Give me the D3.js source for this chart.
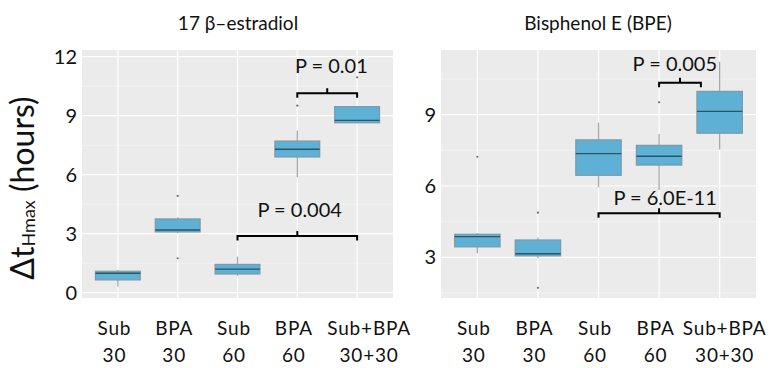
<!DOCTYPE html>
<html>
<head>
<meta charset="utf-8">
<script src="https://cdn.jsdelivr.net/npm/d3@7"></script>
<style>
  html, body { margin: 0; padding: 0; background: #fff; }
  svg { display: block; font-family: Lato, "Open Sans", sans-serif; }
</style>
</head>
<body>
<svg id="chart" width="772" height="368"></svg>
<script>
// Group labels (two lines each)
const groupLine1 = ["Sub", "BPA", "Sub", "BPA", "Sub+BPA"];
const groupLine2 = ["30", "30", "60", "60", "30+30"];

// 17 beta-estradiol: box-plot statistics per group (hours)
const e2WhiskerLow  = [0.31, 3.02, 0.86, 5.87, 8.61];
const e2Q1          = [0.65, 3.09, 0.95, 6.90, 8.64];
const e2Median      = [0.99, 3.19, 1.20, 7.29, 8.76];
const e2Q3          = [1.09, 3.75, 1.44, 7.71, 9.46];
const e2WhiskerHigh = [1.15, 3.83, 1.83, 8.24, 9.46];
const e2Outliers    = [[], [4.92, 1.75], [], [9.51], [10.95]];
const e2Ticks       = [0, 3, 6, 9, 12];

// Bisphenol E: box-plot statistics per group (hours)
const bpeWhiskerLow  = [3.17, 2.96, 5.95, 5.83, 7.54];
const bpeQ1          = [3.44, 3.06, 6.45, 6.88, 8.22];
const bpeMedian      = [3.87, 3.15, 7.36, 7.25, 9.14];
const bpeQ3          = [3.97, 3.73, 7.94, 7.71, 9.98];
const bpeWhiskerHigh = [4.01, 3.83, 8.66, 8.19, 11.23];
const bpeOutliers    = [[7.23], [4.88, 1.72], [], [9.52], []];
const bpeTicks       = [3, 6, 9];

// Significance brackets: group span, bar height and label placement (data units)
const e2Brackets = [
  { label: "P = 0.01",  from: 3, to: 4,    y: 10.14, tx: 3.57, ty: 11.18 },
  { label: "P = 0.004", from: 2, to: 4,    y: 2.88,  tx: 3.04, ty: 3.83 }
];
const bpeBrackets = [
  { label: "P = 0.005",   from: 3, to: 3.69, y: 10.34, tx: 3.26, ty: 10.85 },
  { label: "P = 6.0E-11", from: 2, to: 4,    y: 4.85,  tx: 3.10, ty: 5.19 }
];

const svg = d3.select("#chart");

function buildRows(lo, q1, med, q3, hi, out) {
  return groupLine1.map((g, i) => ({
    i, lo: lo[i], q1: q1[i], med: med[i], q3: q3[i], hi: hi[i], out: out[i]
  }));
}

function drawPanel(opt) {
  const { left, right, top, bottom, yDomain, ticks, rows, brackets, title, titleX } = opt;
  const x = d3.scaleLinear().domain([-0.6, groupLine1.length - 0.4]).range([left, right]);
  const y = d3.scaleLinear().domain(yDomain).range([bottom, top]);
  const g = svg.append("g");

  // panel background
  g.append("rect").attr("x", left).attr("y", top)
    .attr("width", right - left).attr("height", bottom - top)
    .attr("fill", "#ebebeb");

  // minor horizontal grid (half-way between ticks)
  const minor = d3.range(1.5, 12, 3).filter(v => v > yDomain[0] && v < yDomain[1]);
  g.selectAll(".minor").data(minor).join("line")
    .attr("x1", left).attr("x2", right)
    .attr("y1", d => y(d)).attr("y2", d => y(d))
    .attr("stroke", "#f5f5f5").attr("stroke-width", 0.8);

  // major horizontal grid
  g.selectAll(".major").data(ticks).join("line")
    .attr("x1", left).attr("x2", right)
    .attr("y1", d => y(d)).attr("y2", d => y(d))
    .attr("stroke", "#ffffff").attr("stroke-width", 1.2);

  // vertical grid at each group
  g.selectAll(".vgrid").data(groupLine1.map((d, i) => i)).join("line")
    .attr("x1", d => x(d)).attr("x2", d => x(d))
    .attr("y1", top).attr("y2", bottom)
    .attr("stroke", "#ffffff").attr("stroke-width", 1.2);

  // y axis tick labels
  const yAxis = d3.axisLeft(y).tickValues(ticks).tickSize(0).tickPadding(4);
  const ya = g.append("g").attr("transform", `translate(${left - 1},0)`).call(yAxis);
  ya.select(".domain").remove();
  ya.selectAll("text").attr("font-family", "Lato, sans-serif")
    .attr("font-size", 20).attr("fill", "#111");

  const bw = (x(1) - x(0)) * 0.75;

  // whiskers
  g.selectAll(".wh").data(rows).join("line")
    .attr("x1", d => x(d.i)).attr("x2", d => x(d.i))
    .attr("y1", d => y(d.lo)).attr("y2", d => y(d.hi))
    .attr("stroke", "#a8a8a8").attr("stroke-width", 1.3);

  // boxes
  g.selectAll(".box").data(rows).join("rect")
    .attr("x", d => x(d.i) - bw / 2).attr("width", bw)
    .attr("y", d => y(d.q3)).attr("height", d => y(d.q1) - y(d.q3))
    .attr("fill", "#5eb0d5").attr("stroke", "#7f9aa6").attr("stroke-width", 1.2);

  // medians
  g.selectAll(".med").data(rows).join("line")
    .attr("x1", d => x(d.i) - bw / 2).attr("x2", d => x(d.i) + bw / 2)
    .attr("y1", d => y(d.med)).attr("y2", d => y(d.med))
    .attr("stroke", "#2c5566").attr("stroke-width", 1.4);

  // outliers
  const pts = rows.flatMap(d => d.out.map(v => ({ i: d.i, v })));
  g.selectAll(".out").data(pts).join("circle")
    .attr("cx", d => x(d.i)).attr("cy", d => y(d.v)).attr("r", 1.1)
    .attr("fill", "#6f6f6f");

  // significance brackets
  brackets.forEach(b => {
    const x1 = x(b.from), x2 = x(b.to), yy = y(b.y), xm = (x1 + x2) / 2;
    g.append("path")
      .attr("d", `M${x1},${yy + 4.5}V${yy}H${x2}V${yy + 4.5}M${xm},${yy}V${yy - 5}`)
      .attr("fill", "none").attr("stroke", "#000").attr("stroke-width", 2);
    g.append("text").attr("x", x(b.tx)).attr("y", y(b.ty))
      .attr("text-anchor", "middle").attr("font-size", 20).attr("fill", "#111")
      .text(b.label);
  });

  // group labels below the panel
  groupLine1.forEach((t, i) => {
    const dx = i === groupLine1.length - 1 ? opt.lastShift : -3.5;
    const lab = g.append("text").attr("text-anchor", "middle")
      .attr("font-size", 19).attr("letter-spacing", 0.8).attr("fill", "#111");
    lab.append("tspan").attr("x", x(i) + dx).attr("y", 335).text(t);
    lab.append("tspan").attr("x", x(i) + dx).attr("y", 361.5).text(groupLine2[i]);
  });

  // panel title
  g.append("text").attr("x", titleX).attr("y", 29.5).attr("text-anchor", "middle")
    .attr("font-size", 19).attr("fill", "#111").text(title);
}

drawPanel({
  left: 82, right: 393, top: 50, bottom: 298,
  yDomain: [-0.27, 12.34], ticks: e2Ticks,
  rows: buildRows(e2WhiskerLow, e2Q1, e2Median, e2Q3, e2WhiskerHigh, e2Outliers),
  brackets: e2Brackets, title: "17 β–estradiol", titleX: 238, lastShift: 12
});

drawPanel({
  left: 441, right: 756, top: 50, bottom: 298,
  yDomain: [1.29, 11.72], ticks: bpeTicks,
  rows: buildRows(bpeWhiskerLow, bpeQ1, bpeMedian, bpeQ3, bpeWhiskerHigh, bpeOutliers),
  brackets: bpeBrackets, title: "Bisphenol E (BPE)", titleX: 598, lastShift: 5
});

// shared y axis title
const yt = svg.append("text")
  .attr("transform", "translate(34,188) rotate(-90)")
  .attr("text-anchor", "middle").attr("fill", "#111").attr("font-size", 32);
yt.append("tspan").text("Δt");
yt.append("tspan").attr("font-size", 18).attr("dy", 1).text("Hmax");
yt.append("tspan").attr("dy", -1).text(" (hours)");
</script>
</body>
</html>
